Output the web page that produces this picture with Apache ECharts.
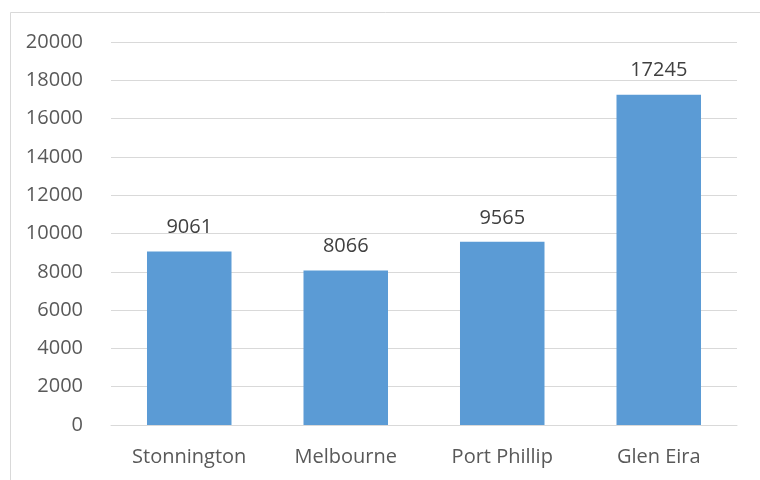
<!DOCTYPE html>
<html>
<head>
<meta charset="utf-8">
<script src="https://cdn.jsdelivr.net/npm/echarts@6/dist/echarts.min.js"></script>
<style>html,body{margin:0;padding:0;background:#fff}#c{width:760px;height:480px}</style>
</head>
<body>
<div id="c"></div>
<script>
const categories = ['Stonnington', 'Melbourne', 'Port Phillip', 'Glen Eira'];
const values = [9061, 8066, 9565, 17245];
const yTicks = {min: 0, max: 20000, interval: 2000};

const chart = echarts.init(document.getElementById('c'), null, {renderer: 'canvas'});
const font = '"Open Sans", "Noto Sans", sans-serif';
chart.setOption({
  animation: false,
  backgroundColor: '#ffffff',
  graphic: [{
    type: 'rect', silent: true,
    shape: {x: 10.5, y: 12.5, width: 800, height: 500},
    style: {fill: 'none', stroke: '#d9d9d9', lineWidth: 1}
  }],
  grid: {left: 111, right: 23, top: 42, bottom: 55, containLabel: false},
  xAxis: {
    type: 'category',
    data: categories,
    axisLine: {show: true, lineStyle: {color: '#d9d9d9', width: 1}},
    axisTick: {show: false},
    axisLabel: {color: '#595959', fontSize: 20, fontFamily: font, margin: 22}
  },
  yAxis: {
    type: 'value',
    min: yTicks.min, max: yTicks.max, interval: yTicks.interval,
    axisLine: {show: false},
    axisTick: {show: false},
    splitLine: {lineStyle: {color: '#d9d9d9', width: 1}},
    axisLabel: {color: '#595959', fontSize: 20, fontFamily: font, margin: 28,
      formatter: function (v) { return String(v); }}
  },
  series: [{
    type: 'bar',
    data: values,
    barWidth: '54%',
    itemStyle: {color: '#5b9bd5'},
    label: {show: true, position: 'top', distance: 14, color: '#404040', fontSize: 20, fontFamily: font}
  }]
});
</script>
</body>
</html>
